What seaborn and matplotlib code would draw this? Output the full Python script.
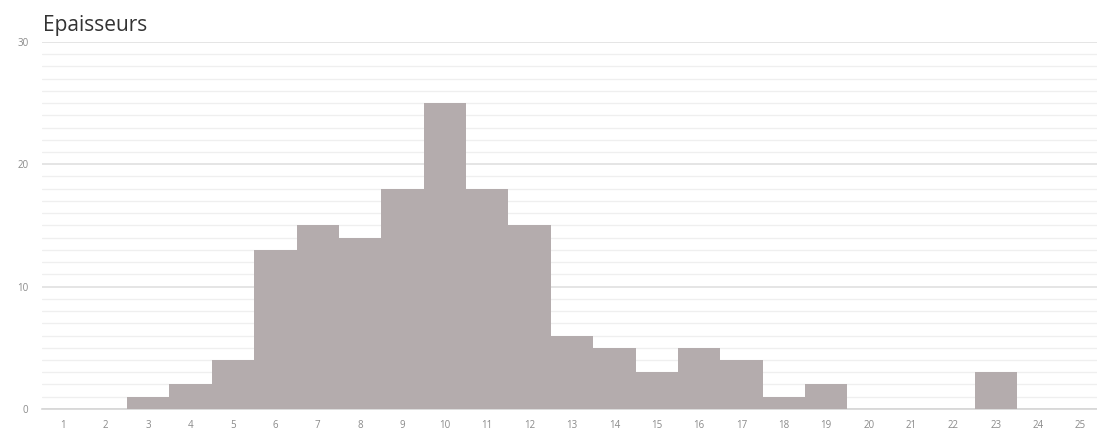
import matplotlib
matplotlib.use('Agg')
import matplotlib.pyplot as plt
import seaborn as sns
import pandas as pd
from matplotlib.ticker import MultipleLocator

# Epaisseurs: counts per thickness class
classes = list(range(1, 26))
counts = [0, 0, 1, 2, 4, 13, 15, 14, 18, 25, 18, 15, 6, 5, 3, 5, 4, 1, 2, 0, 0, 0, 3, 0, 0]
y_ticks = [0, 10, 20, 30]

df = pd.DataFrame({'classe': [str(c) for c in classes], 'n': counts})

sns.set_style('white')
plt.rcParams['font.family'] = ['Open Sans', 'DejaVu Sans']

fig, ax = plt.subplots(figsize=(10.97, 4.36), dpi=100)
fig.subplots_adjust(left=0.0385, right=1.0043, bottom=0.062, top=0.904)

sns.barplot(x='classe', y='n', data=df, color='#b4acad', width=1.0,
            saturation=1, linewidth=0, ax=ax, zorder=3)

ax.set_ylim(0, 30)
ax.set_xlim(-0.5, 24.5)
ax.set_yticks(y_ticks)
ax.yaxis.set_minor_locator(MultipleLocator(1))
ax.grid(which='major', axis='y', color='#dedede', linewidth=1.1, zorder=0)
ax.grid(which='minor', axis='y', color='#efefef', linewidth=0.9, zorder=0)
ax.set_axisbelow(True)

for s in ['top', 'right', 'left']:
    ax.spines[s].set_visible(False)
ax.spines['bottom'].set_color('#d6d6d6')
ax.spines['bottom'].set_linewidth(1.2)

ax.tick_params(axis='both', which='both', length=0, labelsize=7, labelcolor='#8a8a8a')
ax.tick_params(axis='x', pad=8)
ax.tick_params(axis='y', pad=10)
ax.set_xlabel('')
ax.set_ylabel('')

fig.text(0.039, 0.917, 'Epaisseurs', fontsize=15, color='#333333', ha='left', va='bottom')

plt.savefig('out.png', dpi=100)
